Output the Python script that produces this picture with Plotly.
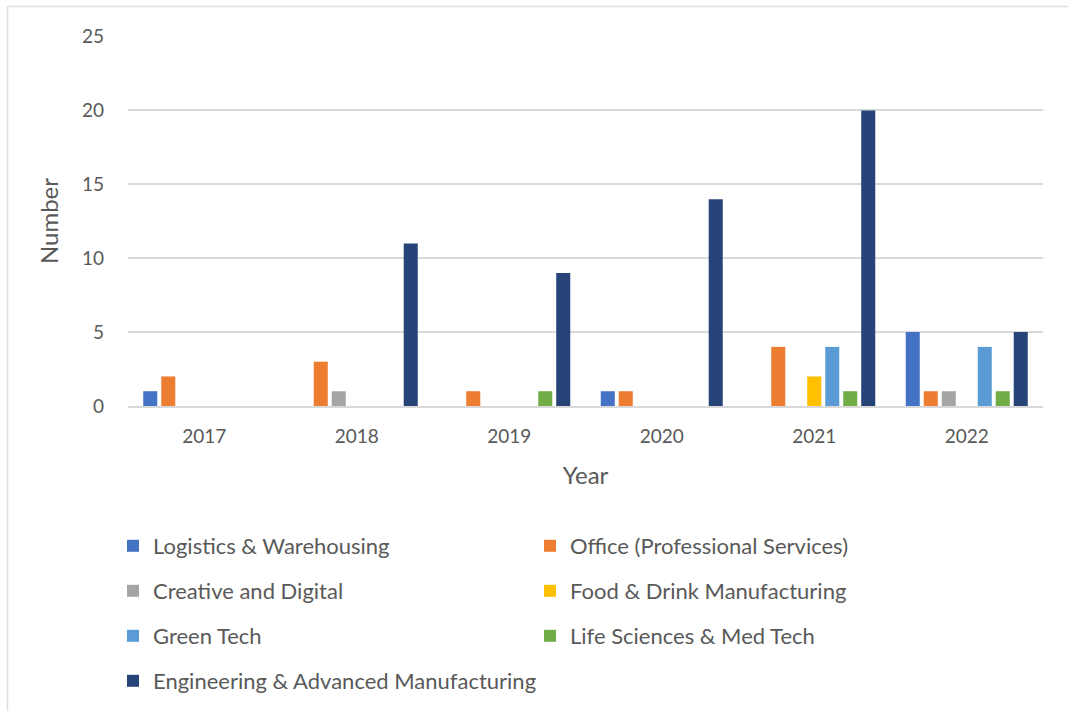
import plotly.graph_objects as go

years = ["2017", "2018", "2019", "2020", "2021", "2022"]
series_names = [
    "Logistics & Warehousing",
    "Office (Professional Services)",
    "Creative and Digital",
    "Food & Drink Manufacturing",
    "Green Tech",
    "Life Sciences & Med Tech",
    "Engineering & Advanced Manufacturing",
]
logistics = [1, 0, 0, 1, 0, 5]
office = [2, 3, 1, 1, 4, 1]
creative = [0, 1, 0, 0, 0, 1]
food = [0, 0, 0, 0, 2, 0]
green = [0, 0, 0, 0, 4, 4]
life = [0, 0, 1, 0, 1, 1]
engineering = [0, 11, 9, 14, 20, 5]
values = [logistics, office, creative, food, green, life, engineering]
colors = ["#4472C4", "#ED7D31", "#A5A5A5", "#FFC000", "#5B9BD5", "#70AD47", "#264478"]

W, H = 1068, 711
# plot-area pixel bounds in the screenshot
PX0, PX1, PY0, PY1 = 128, 1043, 36, 406

font_family = "Lato, 'Open Sans', sans-serif"
txt = "#595959"

def fx(px):
    return px / W

def fy(py):
    return (H - py) / H

fig = go.Figure()
legend_ids = ["legend", "legend", "legend2", "legend2", "legend3", "legend3", "legend4"]
for name, vals, col, lg in zip(series_names, values, colors, legend_ids):
    fig.add_trace(go.Bar(
        x=years, y=vals, name=name, marker=dict(color=col, line=dict(width=0)),
        legend=lg,
    ))

row_y = [546, 591, 636, 681]
legend_common = dict(
    orientation="h", entrywidthmode="pixels",
    font=dict(family=font_family, size=22, color=txt),
    bgcolor="rgba(0,0,0,0)", xanchor="left", yanchor="middle",
    itemwidth=30, traceorder="normal",
)
layout_legends = {}
for i, key in enumerate(["legend", "legend2", "legend3", "legend4"]):
    layout_legends[key] = dict(legend_common, x=fx(113), y=fy(row_y[i]),
                               entrywidth=372 if i < 3 else 520)

fig.update_layout(
    width=W, height=H,
    margin=dict(l=0, r=0, t=0, b=0, autoexpand=False),
    paper_bgcolor="white", plot_bgcolor="white",
    barmode="group", bargap=0.174, bargroupgap=0.22,
    font=dict(family=font_family, color=txt),
    showlegend=True,
    xaxis=dict(
        domain=[fx(PX0), fx(PX1)],
        title=dict(text="Year", font=dict(size=24, color=txt), standoff=22),
        tickfont=dict(size=19, color=txt),
        showline=True, linecolor="#D9D9D9", linewidth=1.5,
        ticks="", showgrid=False, automargin=False, ticklabelstandoff=12,
    ),
    yaxis=dict(
        domain=[fy(PY1), fy(PY0)],
        title=dict(text="Number", font=dict(size=24, color=txt), standoff=16),
        tickfont=dict(size=19, color=txt),
        range=[0, 25.04], dtick=5, tick0=0,
        showgrid=True, gridcolor="#D9D9D9", gridwidth=1.5,
        zeroline=False, showline=False, ticks="", ticklabelstandoff=23,
        automargin=False,
    ),
    **layout_legends,
)

# chart frame (left and top edges)
fig.add_shape(type="line", xref="paper", yref="paper",
              x0=fx(7.5), x1=fx(7.5), y0=fy(6.5), y1=0,
              line=dict(color="#E0E0E0", width=1.5))
fig.add_shape(type="line", xref="paper", yref="paper",
              x0=fx(7.5), x1=1, y0=fy(6.5), y1=fy(6.5),
              line=dict(color="#E0E0E0", width=1.5))

fig.write_html(
    "out.html",
    config={"displayModeBar": False},
    post_script="document.body.style.margin='0';document.body.style.overflow='hidden';",
)
